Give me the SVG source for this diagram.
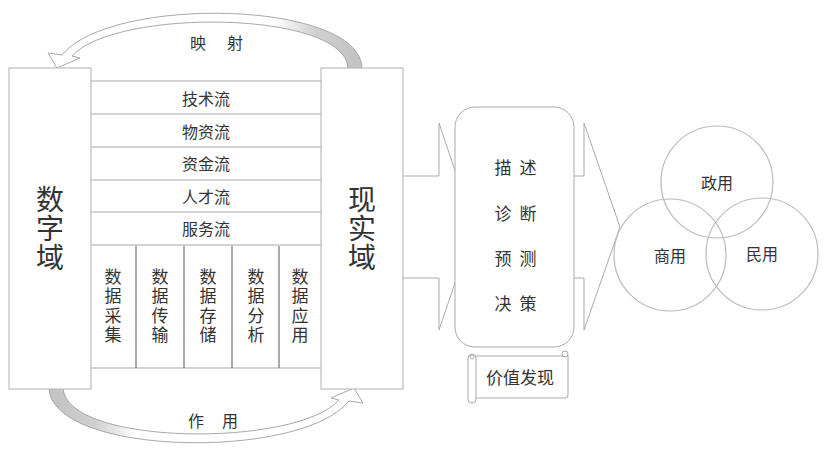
<svg xmlns="http://www.w3.org/2000/svg" width="832" height="462" viewBox="0 0 832 462">
<defs>
<linearGradient id="shade" x1="0" y1="0" x2="1" y2="0">
<stop offset="0" stop-color="#ffffff"/>
<stop offset="0.72" stop-color="#ffffff"/>
<stop offset="0.85" stop-color="#d0d0d0"/>
<stop offset="1" stop-color="#c2c2c2"/>
</linearGradient>
</defs>
<style>
text{font-family:"Noto Sans CJK SC","Noto Sans",sans-serif;fill:#333;text-anchor:middle;dominant-baseline:central}
.v{writing-mode:vertical-rl;dominant-baseline:auto}
.box{fill:#fff;stroke:#bdbdbd;stroke-width:1.2}
.row{stroke:#c4c4c4;stroke-width:1.5;fill:none}
.col{stroke:#555;stroke-width:1;fill:none}
.shape{fill:#fff;stroke:#aaa;stroke-width:1}
.t16{font-size:16px}
.t17{font-size:17px}
.cv{font-size:17px;letter-spacing:2.5px}
.big{font-size:28px;letter-spacing:1px}
.curve{fill:url(#shade);stroke:#a8a8a8;stroke-width:1}
</style>
<g id="connectors">
<path id="map-arrow" class="curve" d="M362,68 C360,0 110,-5 62,55 L48,53 L57,68 L80,58 L72,56 C115,8 345,10 348,68 Z"/>
<path id="act-arrow" class="curve" transform="rotate(180 205.5 228)" d="M362,68 C360,0 110,-5 62,55 L48,53 L57,68 L80,58 L72,56 C115,8 345,10 348,68 Z"/>
<polygon id="arrow1" class="shape" points="400,176 439,176 439,123 474,227 439,330 439,278 400,278"/>
<polygon id="arrow2" class="shape" points="570,176 584,176 584,123 620,227 584,330 584,278 570,278"/>
</g>
<text x="198" y="42" class="t16">映</text>
<text x="235" y="42" class="t16">射</text>
<text x="196" y="420" class="t16">作</text>
<text x="230" y="420" class="t16">用</text>
<g id="middle">
<line class="row" x1="91" y1="81" x2="321" y2="81"/>
<line class="row" x1="91" y1="114" x2="321" y2="114"/>
<line class="row" x1="91" y1="147" x2="321" y2="147"/>
<line class="row" x1="91" y1="180" x2="321" y2="180"/>
<line class="row" x1="91" y1="212" x2="321" y2="212"/>
<line class="row" x1="91" y1="245" x2="321" y2="245"/>
<line class="row" x1="91" y1="368" x2="321" y2="368"/>
<line class="col" x1="136" y1="246" x2="136" y2="368"/>
<line class="col" x1="184" y1="246" x2="184" y2="368"/>
<line class="col" x1="232" y1="246" x2="232" y2="368"/>
<line class="col" x1="279" y1="246" x2="279" y2="368"/>
<text x="206" y="98" class="t16">技术流</text>
<text x="206" y="131" class="t16">物资流</text>
<text x="206" y="163" class="t16">资金流</text>
<text x="206" y="196" class="t16">人才流</text>
<text x="206" y="228" class="t16">服务流</text>
<text x="113" y="307" class="v cv">数据采集</text>
<text x="160" y="307" class="v cv">数据传输</text>
<text x="208" y="307" class="v cv">数据存储</text>
<text x="256" y="307" class="v cv">数据分析</text>
<text x="300" y="307" class="v cv">数据应用</text>
</g>
<g id="digital">
<rect class="box" x="9" y="68" width="82" height="321"/>
<text x="50" y="229" class="v big">数字域</text>
</g>
<g id="real">
<rect class="box" x="321" y="68" width="82" height="321"/>
<text x="362" y="229" class="v big">现实域</text>
</g>
<g id="analysis">
<rect class="shape" x="455" y="107" width="119" height="240" rx="20"/>
<text x="503" y="166" class="t17">描</text><text x="528" y="166" class="t17">述</text>
<text x="503" y="212" class="t17">诊</text><text x="528" y="212" class="t17">断</text>
<text x="503" y="257" class="t17">预</text><text x="528" y="257" class="t17">测</text>
<text x="503" y="302" class="t17">决</text><text x="528" y="302" class="t17">策</text>
</g>
<g id="value">
<path class="shape" d="M472,356 L564,356 L564,352 A4,4 0 0 1 568,356 L568,395 A3,3 0 0 1 565,398 L476,398"/>
<rect class="shape" x="468" y="354" width="8" height="49" rx="4"/>
<circle class="shape" cx="565" cy="354" r="3"/>
<circle class="shape" cx="472" cy="357" r="2"/>
<text x="520" y="376" class="t17">价值发现</text>
</g>
<g id="gov">
<circle cx="717" cy="182" r="56" fill="none" stroke="#bbb" stroke-width="1.2"/>
<text x="717" y="182" class="t16">政用</text>
</g>
<g id="biz">
<circle cx="670" cy="255" r="56" fill="none" stroke="#bbb" stroke-width="1.2"/>
<text x="670" y="255" class="t16">商用</text>
</g>
<g id="civil">
<circle cx="762" cy="254" r="56" fill="none" stroke="#bbb" stroke-width="1.2"/>
<text x="762" y="253" class="t16">民用</text>
</g>
</svg>
